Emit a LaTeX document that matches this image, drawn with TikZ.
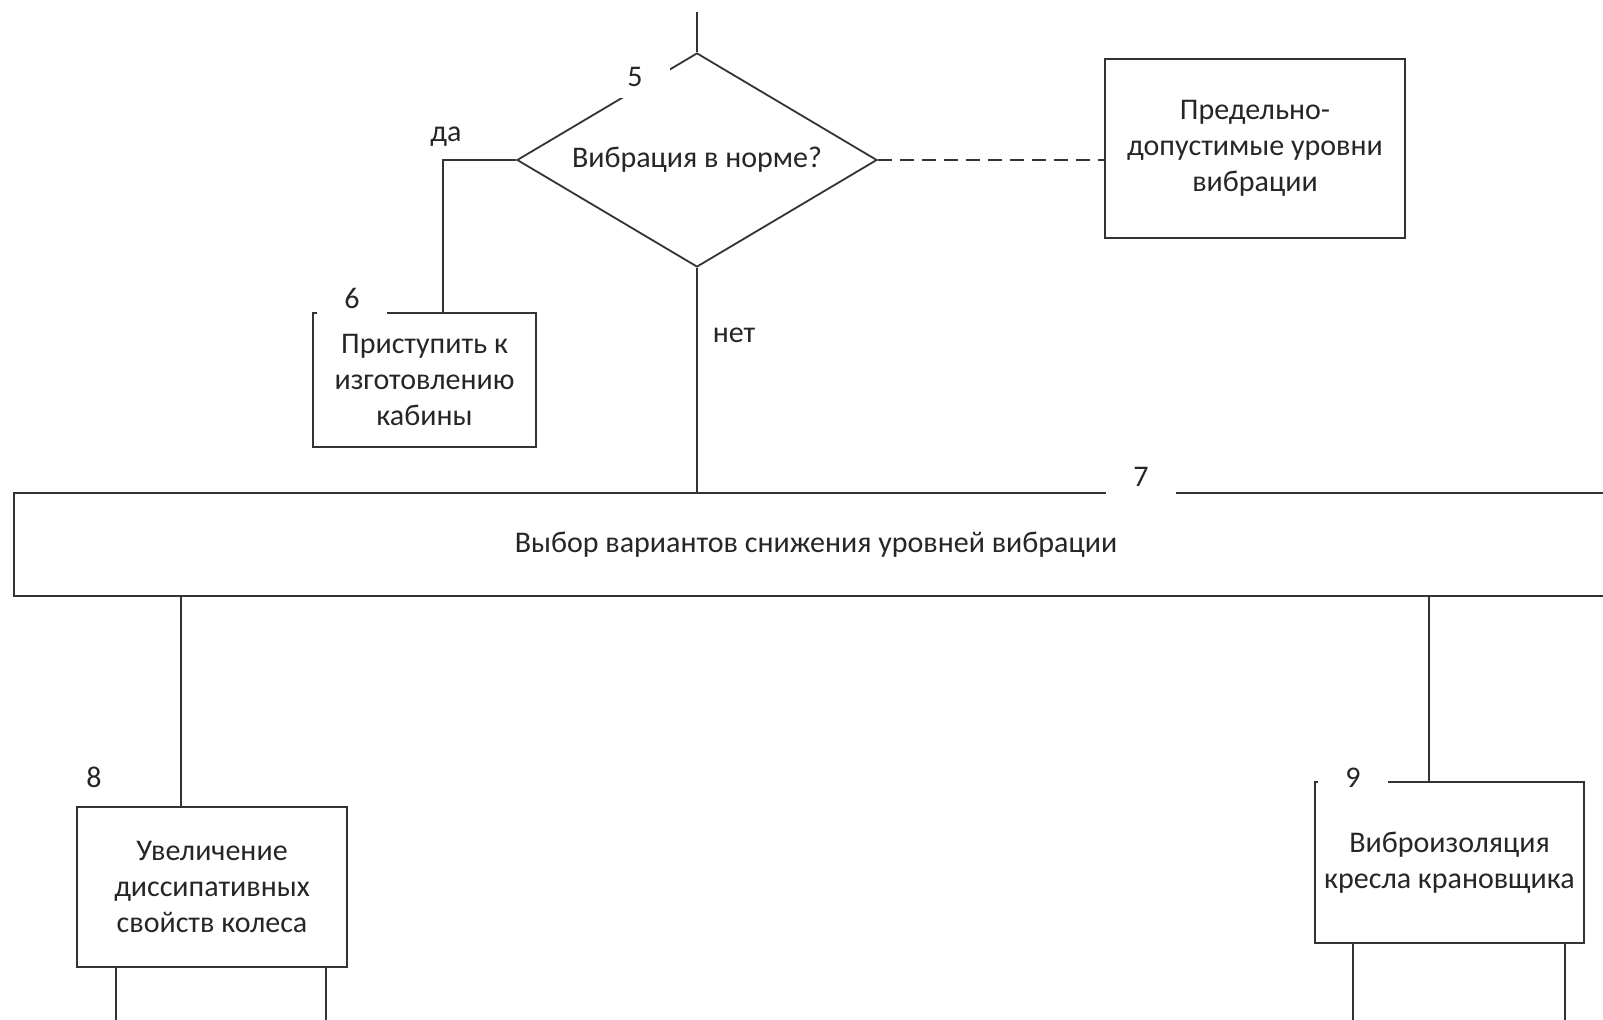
\documentclass[tikz,border=0pt]{standalone}
\usepackage{fontspec}
\setmainfont{Carlito}
\usetikzlibrary{shapes.geometric}
\tikzset{block/.style={rectangle,draw=black!80,line width=0.9pt,align=center,inner sep=0pt},
  check/.style={diamond,draw=black!80,line width=0.9pt,inner sep=0pt,shape aspect=1.68,minimum width=180pt,minimum height=107pt},
  num/.style={fill=white,inner sep=0pt,minimum width=35pt,minimum height=21pt},
  link/.style={draw=black!80,line width=0.9pt},
}

\begin{document}
\begin{tikzpicture}[x=0.5pt,y=-0.5pt,font=\fontsize{15}{18}\selectfont,text=black!85]
\clip (0,0) rectangle (1603,1020);

% blocks
\node[check] (check) at (697,160) {Вибрация в норме?};
\node[block,minimum width=150pt,minimum height=89.5pt] (norms) at (1255,148.5) {Предельно-\\допустимые уровни\\вибрации};
\node[block,minimum width=111.5pt,minimum height=67pt] (start) at (424.5,380) {Приступить к\\изготовлению\\кабины};
\node[block,minimum width=802pt,minimum height=51.5pt] (choice) at (816,544.5) {Выбор вариантов снижения уровней вибрации};
\node[block,minimum width=135pt,minimum height=80pt] (wheel) at (212,887) {Увеличение\\диссипативных\\свойств колеса};
\node[block,minimum width=134.5pt,minimum height=80.5pt] (seat) at (1449.5,862.5) {Виброизоляция\\кресла крановщика};

% connection points
\coordinate (in) at (697,12);
\coordinate (t6) at ([xshift=65.5pt]start.north west);
\coordinate (t8) at ([xshift=52.5pt]wheel.north west);
\coordinate (t9) at ([xshift=57.5pt]seat.north west);
\coordinate (b8a) at ([xshift=20pt]wheel.south west);
\coordinate (b8b) at ([xshift=-11pt]wheel.south east);
\coordinate (b9a) at ([xshift=19.5pt]seat.south west);
\coordinate (b9b) at ([xshift=-10pt]seat.south east);

% lines
\path[link]
  (in) -- (check.north)
  (check.west) -| (t6)
  (check.south) -- (check.south |- choice.north)
  (t8 |- choice.south) -- (t8)
  (t9 |- choice.south) -- (t9)
  (b8a) -- ++(0,60)
  (b8b) -- ++(0,60)
  (b9a) -- ++(0,80)
  (b9b) -- ++(0,80);
\draw[link,dashed,dash pattern=on 7pt off 4pt] (check.east) -- (check.east -| norms.west);

\node (yes) at (446,137) {да};
\node (no) at (734,335) {нет};

% numbers over the frames
\node[num] (n5) at (635,77) {5};
\node[num] (n6) at (352,298) {6};
\node[num] (n7) at (1141,477) {7};
\node[num] (n8) at (94,777) {8};
\node[num] (n9) at (1353,778) {9};

\end{tikzpicture}
\end{document}
